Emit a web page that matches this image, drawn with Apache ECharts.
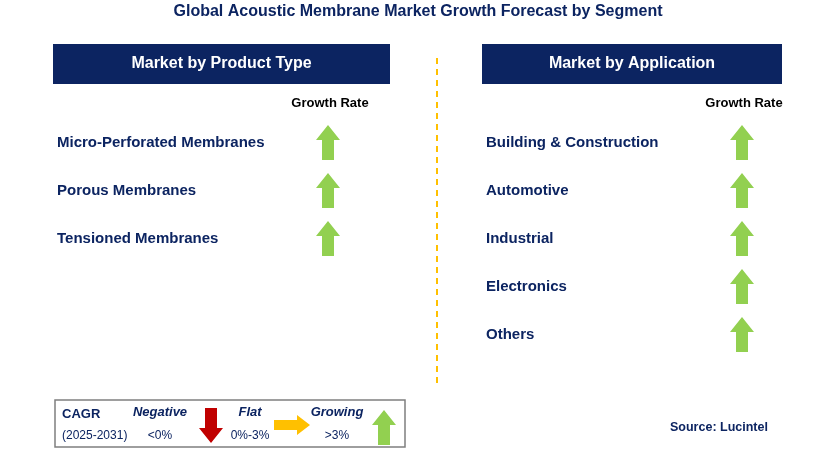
<!DOCTYPE html>
<html><head><meta charset="utf-8">
<script src="https://cdn.jsdelivr.net/npm/echarts@6/dist/echarts.min.js"></script>
<style>html,body{margin:0;padding:0;background:#fff}#c{width:828px;height:473px}</style>
</head><body><div id="c"></div>
<script>
const title = 'Global Acoustic Membrane Market Growth Forecast by Segment';
const productTypes = ['Micro-Perforated Membranes', 'Porous Membranes', 'Tensioned Membranes'];
const productTrends = ['up', 'up', 'up'];
const applications = ['Building & Construction', 'Automotive', 'Industrial', 'Electronics', 'Others'];
const applicationTrends = ['up', 'up', 'up', 'up', 'up'];
const panelTitles = ['Market by Product Type', 'Market by Application'];

const NAVY = '#0c2461', GREEN = '#92d050', RED = '#c00000', AMBER = '#ffc000';
const F = 'Arial, "Liberation Sans", sans-serif';

function upArrow(cx, top, col) {
  const w = 24, h = 35, hh = 15, sw = 12;
  return {type: 'polygon', shape: {points: [
    [cx, top], [cx + w/2, top + hh], [cx + sw/2, top + hh], [cx + sw/2, top + h],
    [cx - sw/2, top + h], [cx - sw/2, top + hh], [cx - w/2, top + hh]]}, style: {fill: col}};
}
function downArrow(cx, top, col) {
  const w = 24, h = 35, hh = 15, sw = 12;
  return {type: 'polygon', shape: {points: [
    [cx, top + h], [cx + w/2, top + h - hh], [cx + sw/2, top + h - hh], [cx + sw/2, top],
    [cx - sw/2, top], [cx - sw/2, top + h - hh], [cx - w/2, top + h - hh]]}, style: {fill: col}};
}
function rightArrow(left, cy, col) {
  const w = 36, h = 20, hw = 13, sh = 10;
  return {type: 'polygon', shape: {points: [
    [left + w, cy], [left + w - hw, cy - h/2], [left + w - hw, cy - sh/2], [left, cy - sh/2],
    [left, cy + sh/2], [left + w - hw, cy + sh/2], [left + w - hw, cy + h/2]]}, style: {fill: col}};
}
function text(x, y, t, o) {
  return {type: 'text', x, y, style: Object.assign({text: t, font: 'bold 15px ' + F, fill: NAVY, verticalAlign: 'middle'}, o || {})};
}
function panel(x0, x1, arrowX, name, items, trends) {
  const els = [];
  els.push({type: 'rect', shape: {x: x0, y: 44, width: x1 - x0, height: 40}, style: {fill: NAVY}});
  els.push(text((x0 + x1) / 2, 64, name, {fill: '#fff', font: 'bold 16px ' + F, align: 'center'}));
  els.push(text(arrowX + 2, 103, 'Growth Rate', {fill: '#000', font: 'bold 13px ' + F, align: 'center'}));
  items.forEach((it, i) => {
    const y = 143 + i * 48;
    els.push(text(x0 + 4, y, it));
    const tr = trends[i];
    if (tr === 'up') els.push(upArrow(arrowX, y - 18, GREEN));
    else if (tr === 'down') els.push(downArrow(arrowX, y - 18, RED));
    else els.push(rightArrow(arrowX - 18, y, AMBER));
  });
  return els;
}

const g = [];
g.push(text(418, 12, title, {align: 'center', font: 'bold 16px ' + F}));
g.push(...panel(53, 390, 328, panelTitles[0], productTypes, productTrends));
g.push(...panel(482, 782, 742, panelTitles[1], applications, applicationTrends));
g.push({type: 'line', shape: {x1: 437, y1: 58, x2: 437, y2: 385}, style: {stroke: AMBER, lineWidth: 2, lineDash: [6, 5]}});
// legend
g.push({type: 'rect', shape: {x: 55, y: 400, width: 350, height: 47}, style: {fill: '#fff', stroke: '#7f7f7f', lineWidth: 1.5}});
g.push(text(62, 414, 'CAGR', {font: 'bold 13px ' + F}));
g.push(text(62, 436, '(2025-2031)', {font: '12px ' + F}));
g.push(text(160, 412, 'Negative', {font: 'italic bold 13px ' + F, align: 'center'}));
g.push(text(160, 436, '<0%', {font: '12px ' + F, align: 'center'}));
g.push(downArrow(211, 408, RED));
g.push(text(250, 412, 'Flat', {font: 'italic bold 13px ' + F, align: 'center'}));
g.push(text(250, 436, '0%-3%', {font: '12px ' + F, align: 'center'}));
g.push(rightArrow(274, 425, AMBER));
g.push(text(337, 412, 'Growing', {font: 'italic bold 13px ' + F, align: 'center'}));
g.push(text(337, 436, '>3%', {font: '12px ' + F, align: 'center'}));
g.push(upArrow(384, 410, GREEN));
g.push(text(670, 428, 'Source: Lucintel', {font: 'bold 12.5px ' + F}));

const chart = echarts.init(document.getElementById('c'));
chart.setOption({animation: false, graphic: {elements: g}});
</script></body></html>
